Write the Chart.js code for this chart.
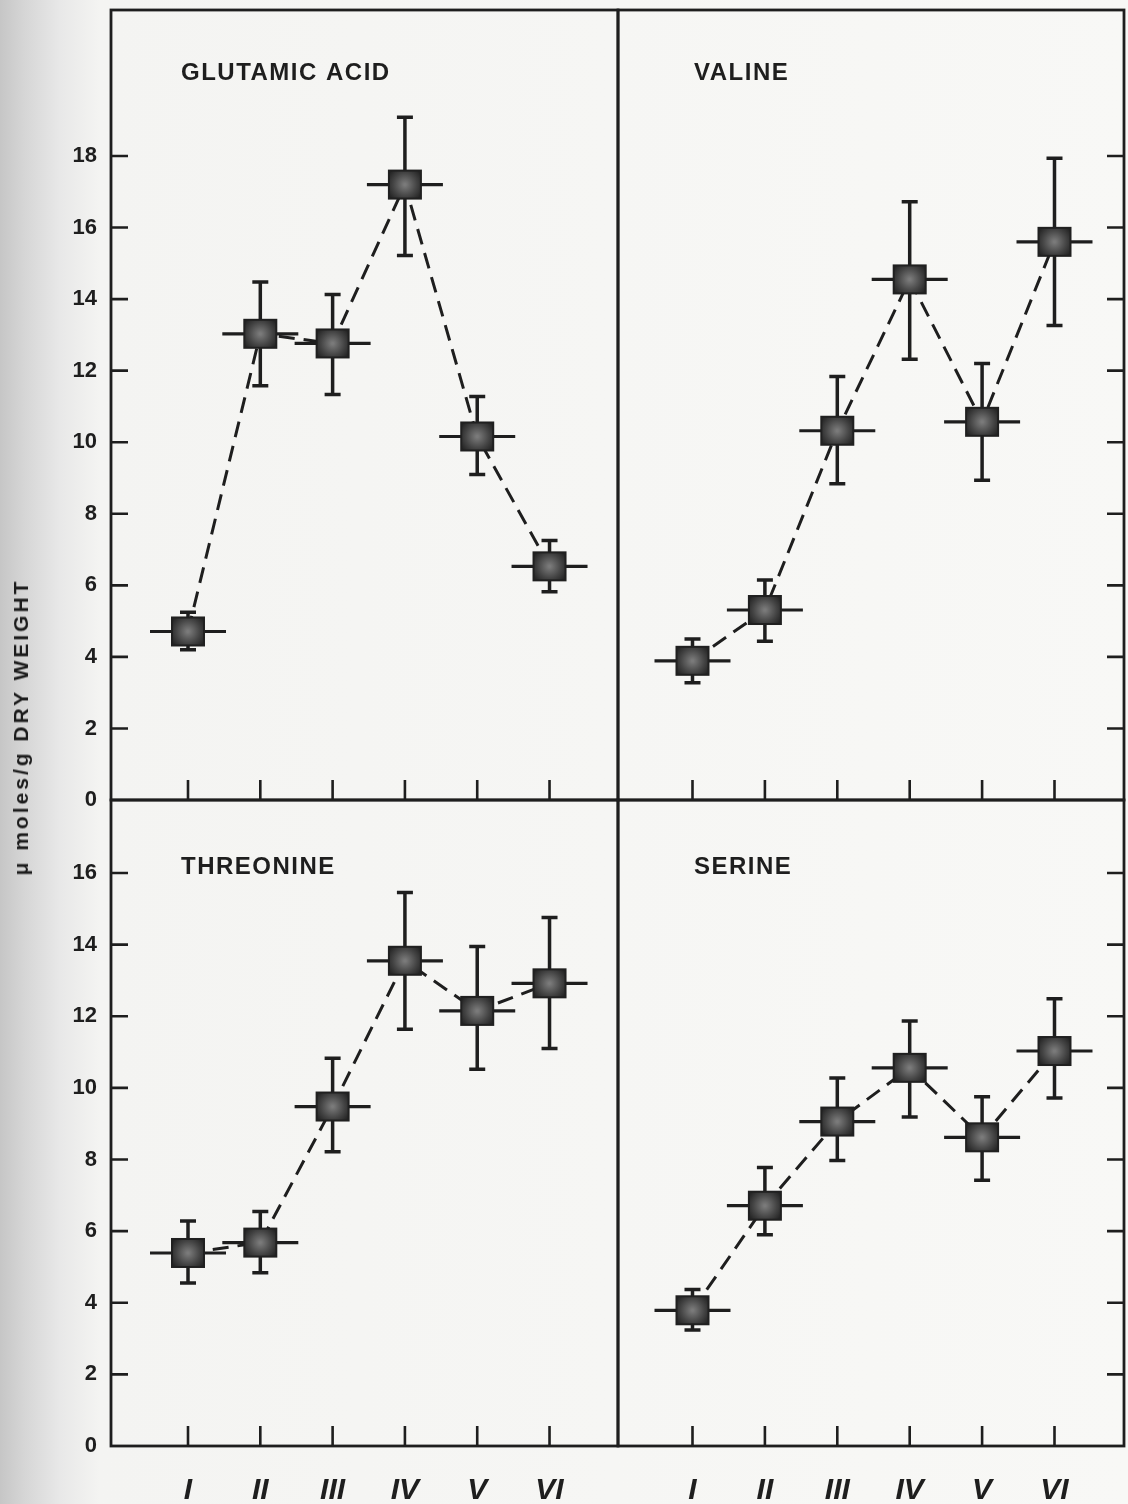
<!DOCTYPE html>
<html>
<head>
<meta charset="utf-8">
<script src="https://cdn.jsdelivr.net/npm/chart.js@4.4.1/dist/chart.umd.min.js"></script>
<style>
  html, body { margin: 0; padding: 0; }
  body {
    width: 1128px; height: 1504px; overflow: hidden; position: relative;
    background: linear-gradient(to right, #c6c6c6 0px, #d6d6d6 25px, #e8e8e8 60px, #f4f4f2 100px, #f8f8f6 100%);
  }
  canvas { position: absolute; }
  #ytitle {
    position: absolute; left: 21px; top: 727px;
    transform: translate(-50%, -50%) rotate(-90deg);
    white-space: nowrap; color: #1c1c1c;
    font: bold 21px "Liberation Sans", Arial, sans-serif; letter-spacing: 3px;
  }
</style>
</head>
<body>
<canvas id="tl" width="626" height="808" style="left:0px;top:0px"></canvas>
<canvas id="tr" width="518" height="808" style="left:610px;top:0px"></canvas>
<canvas id="bl" width="626" height="712" style="left:0px;top:792px"></canvas>
<canvas id="br" width="518" height="712" style="left:610px;top:792px"></canvas>
<div id="ytitle">μ moles/g DRY WEIGHT</div>
<script>
const groups = ["I", "II", "III", "IV", "V", "VI"];
const yTicksTop = [0, 2, 4, 6, 8, 10, 12, 14, 16, 18];
const yTicksBottom = [0, 2, 4, 6, 8, 10, 12, 14, 16];

// means and the ends of the error bars
const glutamicMean = [4.71, 13.03, 12.76, 17.2, 10.16, 6.53];
const glutamicHigh = [5.25, 14.48, 14.13, 19.08, 11.28, 7.25];
const glutamicLow = [4.2, 11.58, 11.33, 15.22, 9.1, 5.82];

const valineMean = [3.89, 5.31, 10.32, 14.55, 10.57, 15.6];
const valineHigh = [4.5, 6.15, 11.84, 16.72, 12.2, 17.94];
const valineLow = [3.28, 4.44, 8.84, 12.32, 8.94, 13.26];

const threonineMean = [5.39, 5.68, 9.48, 13.55, 12.15, 12.92];
const threonineHigh = [6.28, 6.55, 10.83, 15.46, 13.95, 14.76];
const threonineLow = [4.55, 4.84, 8.22, 11.64, 10.52, 11.1];

const serineMean = [3.79, 6.71, 9.06, 10.56, 8.62, 11.03];
const serineHigh = [4.37, 7.78, 10.28, 11.87, 9.75, 12.49];
const serineLow = [3.24, 5.9, 7.97, 9.19, 7.42, 9.72];

const INK = "#1e1e1e";

const panelPlugin = {
  id: "panel",
  afterDatasetsDraw(chart, args, opts) {
    const ctx = chart.ctx;
    const ys = chart.scales.y;
    const pts = chart.getDatasetMeta(0).data;
    ctx.save();
    ctx.strokeStyle = INK;
    pts.forEach((p, i) => {
      const yHi = ys.getPixelForValue(opts.high[i]);
      const yLo = ys.getPixelForValue(opts.low[i]);
      ctx.lineWidth = 3.5;
      ctx.beginPath();
      ctx.moveTo(p.x, yHi); ctx.lineTo(p.x, yLo);
      ctx.moveTo(p.x - 8, yHi); ctx.lineTo(p.x + 8, yHi);
      ctx.moveTo(p.x - 8, yLo); ctx.lineTo(p.x + 8, yLo);
      ctx.stroke();
      ctx.lineWidth = 3.2;
      ctx.beginPath();
      ctx.moveTo(p.x - 38, p.y); ctx.lineTo(p.x + 38, p.y);
      ctx.stroke();

      const w = 32, h = 28;
      const g = ctx.createRadialGradient(p.x, p.y, 1, p.x, p.y, 19);
      g.addColorStop(0, "#7a7a7a");
      g.addColorStop(0.6, "#444");
      g.addColorStop(1, "#242424");
      ctx.fillStyle = g;
      ctx.fillRect(p.x - w / 2, p.y - h / 2, w, h);
      ctx.lineWidth = 2;
      ctx.strokeStyle = "#202020";
      ctx.strokeRect(p.x - w / 2, p.y - h / 2, w, h);
      ctx.strokeStyle = INK;
    });
    ctx.restore();
  },
  afterDraw(chart, args, opts) {
    const ctx = chart.ctx;
    const a = chart.chartArea;
    const ys = chart.scales.y;
    const xs = chart.scales.x;
    ctx.save();
    ctx.strokeStyle = INK;
    ctx.lineWidth = 2.8;
    ctx.strokeRect(a.left, a.top, a.right - a.left, a.bottom - a.top);

    ctx.lineWidth = 2.6;
    ctx.beginPath();
    opts.yTicks.forEach(v => {
      if (v === 0) return;
      const y = ys.getPixelForValue(v);
      if (opts.tickSide === "left") {
        ctx.moveTo(a.left, y); ctx.lineTo(a.left + 17, y);
      } else {
        ctx.moveTo(a.right, y); ctx.lineTo(a.right - 17, y);
      }
    });
    groups.forEach((g, i) => {
      const x = xs.getPixelForValue(i + 1);
      ctx.moveTo(x, a.bottom); ctx.lineTo(x, a.bottom - 20);
    });
    ctx.stroke();

    ctx.fillStyle = INK;
    ctx.font = 'bold 24px "Liberation Sans", Arial, sans-serif';
    ctx.letterSpacing = "1.5px";
    ctx.textBaseline = "alphabetic";
    ctx.fillText(opts.title, a.left + opts.titleDx, a.top + opts.titleDy);
    ctx.restore();
  }
};

function makePanel(id, cfg) {
  const left = cfg.side === "left";
  const bottom = cfg.row === "bottom";
  const yTicks = bottom ? yTicksBottom : yTicksTop;
  new Chart(document.getElementById(id), {
    type: "line",
    data: {
      datasets: [{
        data: cfg.mean.map((v, i) => ({ x: i + 1, y: v })),
        borderColor: INK,
        borderWidth: 3,
        borderDash: [16, 9],
        pointRadius: 0,
        tension: 0,
        fill: false
      }]
    },
    options: {
      responsive: false,
      animation: false,
      devicePixelRatio: 1,
      layout: {
        padding: {
          left: left ? 0 : 8,
          right: left ? 8 : 4,
          top: bottom ? 8 : 10,
          bottom: bottom ? 0 : 8
        }
      },
      plugins: {
        legend: { display: false },
        tooltip: { enabled: false },
        panel: {
          title: cfg.title,
          titleDx: left ? 70 : 76,
          titleDy: bottom ? 74 : 70,
          high: cfg.high,
          low: cfg.low,
          yTicks: yTicks,
          tickSide: left ? "left" : "right"
        }
      },
      scales: {
        x: {
          type: "linear",
          min: left ? -0.065 : -0.029,
          max: left ? 6.947 : 6.96,
          display: bottom,
          grid: { display: false },
          border: { display: false },
          afterBuildTicks: s => { s.ticks = groups.map((g, i) => ({ value: i + 1 })); },
          afterFit: s => { s.height = bottom ? 58 : 0; s.paddingLeft = 0; s.paddingRight = 0; },
          ticks: {
            autoSkip: false,
            maxRotation: 0,
            padding: 19,
            color: INK,
            font: { family: '"Liberation Sans", Arial, sans-serif', size: 30, style: "italic", weight: "bold" },
            callback: v => groups[v - 1] || ""
          }
        },
        y: {
          min: 0,
          max: bottom ? 18.04 : 22.08,
          display: left,
          grid: { display: false, drawTicks: false },
          border: { display: false },
          afterBuildTicks: s => { s.ticks = yTicks.map(v => ({ value: v })); },
          afterFit: s => { s.width = left ? 111 : 0; s.paddingTop = 0; s.paddingBottom = 0; },
          ticks: {
            padding: 14,
            color: INK,
            font: { family: '"Liberation Sans", Arial, sans-serif', size: 22, weight: "bold" }
          }
        }
      }
    },
    plugins: [panelPlugin]
  });
}

makePanel("tl", { side: "left", row: "top", title: "GLUTAMIC ACID", mean: glutamicMean, high: glutamicHigh, low: glutamicLow });
makePanel("tr", { side: "right", row: "top", title: "VALINE", mean: valineMean, high: valineHigh, low: valineLow });
makePanel("bl", { side: "left", row: "bottom", title: "THREONINE", mean: threonineMean, high: threonineHigh, low: threonineLow });
makePanel("br", { side: "right", row: "bottom", title: "SERINE", mean: serineMean, high: serineHigh, low: serineLow });
</script>
</body>
</html>
